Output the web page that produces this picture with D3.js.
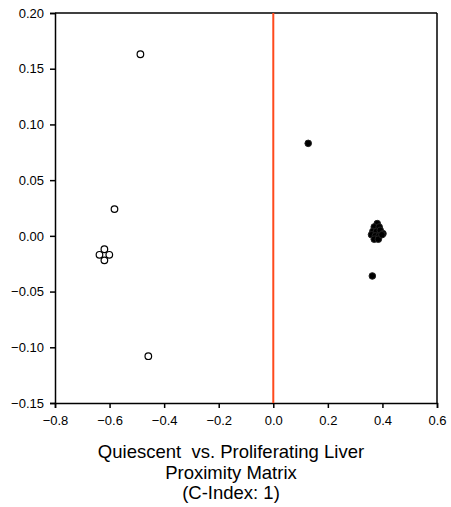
<!DOCTYPE html>
<html><head><meta charset="utf-8">
<script src="https://cdn.jsdelivr.net/npm/d3@7"></script>
<style>body{margin:0;background:#fff}svg{display:block}</style>
</head><body>
<svg id="c" width="451" height="507"></svg>
<script>
const quiescentX = [-0.487, -0.582, -0.458, -0.637, -0.619, -0.601, -0.619];
const quiescentY = [0.163, 0.024, -0.108, -0.017, -0.012, -0.017, -0.022];
const proliferatingX = [0.128, 0.363, 0.381, 0.370, 0.388, 0.365, 0.378, 0.392, 0.360, 0.374, 0.388, 0.402, 0.370, 0.385, 0.398];
const proliferatingY = [0.083, -0.036, 0.011, 0.008, 0.008, 0.004, 0.004, 0.005, 0.001, 0.000, 0.000, 0.002, -0.003, -0.003, 0.001];
const xTicks = [-0.8, -0.6, -0.4, -0.2, 0.0, 0.2, 0.4, 0.6];
const yTicks = [-0.15, -0.10, -0.05, 0.00, 0.05, 0.10, 0.15, 0.20];
const titleLines = ["Quiescent  vs. Proliferating Liver", "Proximity Matrix", "(C-Index: 1)"];

const svg = d3.select("#c");
const L = 55, R = 437, T = 13, B = 403;
const x = d3.scaleLinear().domain([-0.8, 0.6]).range([L, R]);
const y = d3.scaleLinear().domain([-0.15, 0.20]).range([B, T]);
const font = "Liberation Sans, Arial, sans-serif";

// frame top/right
svg.append("line").attr("x1", L).attr("x2", R).attr("y1", T).attr("y2", T).attr("stroke", "#000").attr("stroke-width", 1.5);
svg.append("line").attr("x1", R).attr("x2", R).attr("y1", T).attr("y2", B).attr("stroke", "#000").attr("stroke-width", 1.5);

const xa = svg.append("g").attr("transform", `translate(0,${B})`)
  .call(d3.axisBottom(x).tickValues(xTicks).tickSize(5).tickPadding(8).tickFormat(d => d === 0 ? "0.0" : d3.format(".1f")(d)));
const ya = svg.append("g").attr("transform", `translate(${L},0)`)
  .call(d3.axisLeft(y).tickValues(yTicks).tickSize(5).tickPadding(6).tickFormat(d3.format(".2f")));
[xa, ya].forEach(a => {
  a.attr("font-size", 13).attr("font-family", font);
  a.select(".domain").attr("stroke", "#000").attr("stroke-width", 1.5);
  a.selectAll(".tick line").attr("stroke", "#000").attr("stroke-width", 1.5);
  a.selectAll("text").attr("font-family", font).attr("font-size", 13).attr("fill", "#000");
});

// red zero line
svg.append("line").attr("x1", x(0)).attr("x2", x(0)).attr("y1", T).attr("y2", B)
  .attr("stroke", "#ff4a1c").attr("stroke-width", 2);

svg.append("g").selectAll("circle").data(quiescentX.map((v, i) => [v, quiescentY[i]])).join("circle")
  .attr("cx", d => x(d[0])).attr("cy", d => y(d[1])).attr("r", 3.3)
  .attr("fill", "#fff").attr("stroke", "#000").attr("stroke-width", 1.2);
svg.append("g").selectAll("circle").data(proliferatingX.map((v, i) => [v, proliferatingY[i]])).join("circle")
  .attr("cx", d => x(d[0])).attr("cy", d => y(d[1])).attr("r", 3.3)
  .attr("fill", "#000").attr("stroke", "#222").attr("stroke-width", 1);

svg.append("g").selectAll("text").data(titleLines).join("text")
  .attr("x", 231).attr("y", (d, i) => 458 + i * 20.5)
  .attr("text-anchor", "middle").attr("font-family", font).attr("font-size", 18.5).attr("fill", "#000")
  .style("white-space", "pre").text(d => d);
</script>
</body></html>
